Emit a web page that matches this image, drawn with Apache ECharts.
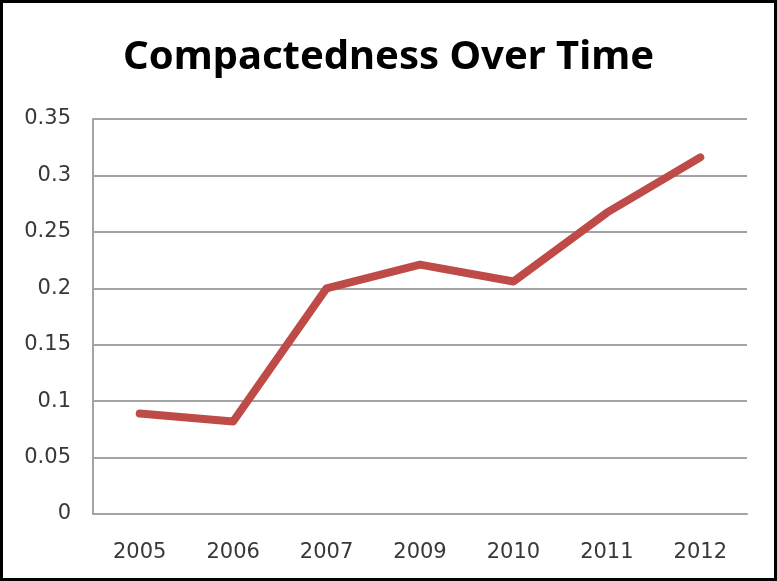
<!DOCTYPE html>
<html>
<head>
<meta charset="utf-8">
<script src="https://cdn.jsdelivr.net/npm/echarts@6/dist/echarts.min.js"></script>
<style>
  html, body { margin: 0; padding: 0; background: #fff; }
  #chart { width: 777px; height: 581px; box-sizing: border-box; border: 3px solid #000; }
</style>
</head>
<body>
<div id="chart"></div>
<script>
// Compactedness measured per year
const years = ['2005', '2006', '2007', '2009', '2010', '2011', '2012'];
const compactedness = [0.089, 0.082, 0.200, 0.221, 0.206, 0.267, 0.316];
const yMin = 0;
const yMax = 0.35;
const yStep = 0.05;

const chart = echarts.init(document.getElementById('chart'), null, { renderer: 'canvas' });
chart.setOption({
  backgroundColor: '#fff',
  animation: false,
  title: {
    text: 'Compactedness Over Time',
    left: 'center',
    top: 30,
    textStyle: { fontFamily: 'Noto Sans', fontWeight: 'bold', fontSize: 40, color: '#000' }
  },
  grid: { left: 90, right: 27, top: 116, bottom: 64 },
  xAxis: {
    type: 'category',
    data: years,
    boundaryGap: true,
    axisLine: { show: true, lineStyle: { color: '#a3a3a3', width: 2 } },
    axisTick: { show: false },
    axisLabel: { color: '#383838', fontFamily: 'DejaVu Sans', fontSize: 21, margin: 28 }
  },
  yAxis: {
    type: 'value',
    min: yMin,
    max: yMax,
    interval: yStep,
    axisLine: { show: true, lineStyle: { color: '#a3a3a3', width: 2 } },
    axisTick: { show: false },
    splitLine: { lineStyle: { color: '#a3a3a3', width: 2 } },
    axisLabel: {
      color: '#383838', fontFamily: 'DejaVu Sans', fontSize: 21, margin: 22,
      formatter: v => String(parseFloat(v.toFixed(2)))
    }
  },
  series: [{
    type: 'line',
    data: compactedness,
    symbol: 'none',
    lineStyle: { color: '#be4b48', width: 8, cap: 'round', join: 'round' }
  }]
});
</script>
</body>
</html>
